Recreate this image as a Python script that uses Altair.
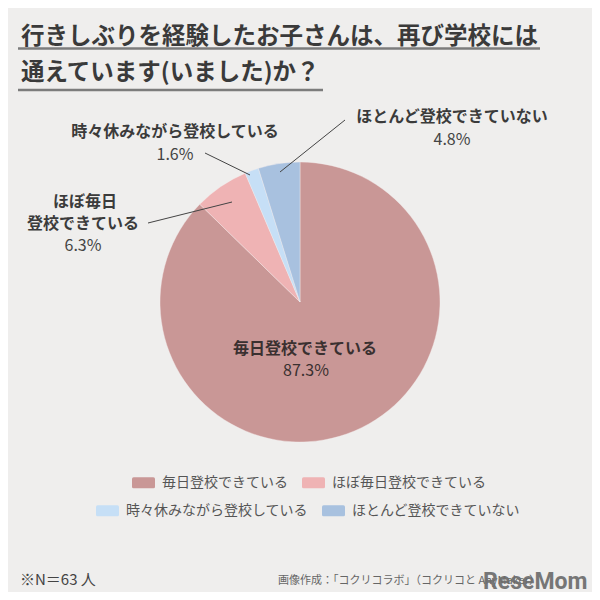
import math
import altair as alt
import pandas as pd

# ---- data ----
categories = ["毎日登校できている", "ほぼ毎日登校できている", "時々休みながら登校している", "ほとんど登校できていない"]
values = [87.3, 6.3, 1.6, 4.8]
colors = ["#c99796", "#efb3b4", "#c6dff6", "#a8c1df"]
title_lines = ["行きしぶりを経験したお子さんは、再び学校には", "通えています(いました)か？"]
note_text = "※N＝63 人"
credit_text = "画像作成：「コクリコラボ」（コクリコと AnyMaker）"
logo_text = "ReseMom"

FONT = "Noto Sans CJK JP"
BG = "#efeeed"
DARK = "#3b3b3b"

df = pd.DataFrame({"category": categories, "value": values, "order": list(range(len(categories)))})
total = sum(values)

swatch = ("M-0.86,-0.48 Q-1,-0.48 -1,-0.34 L-1,0.34 Q-1,0.48 -0.86,0.48 L0.86,0.48 "
          "Q1,0.48 1,0.34 L1,-0.34 Q1,-0.48 0.86,-0.48 Z")

base = (
    alt.Chart(df)
    .transform_window(end="sum(value)", sort=[alt.SortField("order")], frame=[None, 0])
    .transform_calculate(start="datum.end - datum.value")
)


def pie_layer(idx, lx, ly):
    dom = [categories[i] for i in idx]
    rng = [colors[i] for i in idx]
    return (
        base.transform_filter(alt.FieldOneOfPredicate(field="category", oneOf=dom))
        .mark_arc(outerRadius=140, stroke="#f4eeee", strokeWidth=0.4)
        .encode(
            theta=alt.Theta("start:Q", scale=alt.Scale(domain=[0, total], range=[0, 2 * math.pi])),
            theta2="end:Q",
            x=alt.value(292),
            y=alt.value(294),
            color=alt.Color(
                "category:N",
                scale=alt.Scale(domain=dom, range=rng),
                sort=dom,
                legend=alt.Legend(
                    orient="none", legendX=lx, legendY=ly, direction="horizontal",
                    title=None, symbolType=swatch, symbolSize=529, symbolStrokeWidth=0,
                    symbolOpacity=1,
                    labelFont=FONT, labelFontSize=14, labelColor="#555555",
                    labelOffset=7, columnPadding=14, labelLimit=0,
                ),
            ),
        )
    )


pie_a = pie_layer([0, 1], 124, 463)
pie_b = pie_layer([2, 3], 88, 491)


def txt(text, x, y, size, weight="normal", color=DARK, align="center", baseline="middle",
        opacity=1.0, font=FONT):
    return alt.Chart(df).transform_filter("datum.order == 0").mark_text(
        font=font, fontSize=size, fontWeight=weight, color=color,
        align=align, baseline=baseline, opacity=opacity,
    ).encode(x=alt.value(x), y=alt.value(y), text=alt.value(text))


def rule(x1, y1, x2, y2, color="#444444", width=1.0):
    return alt.Chart(df).transform_filter("datum.order == 0").mark_rule(
        color=color, strokeWidth=width
    ).encode(x=alt.value(x1), y=alt.value(y1), x2=alt.value(x2), y2=alt.value(y2))


layers = [
    pie_a, pie_b,
    # title with underlines
    txt(title_lines[0], 13, 35.5, 23.5, "bold", "#3a3a3a", "left", "alphabetic"),
    rule(10, 40.5, 532, 40.5, "#7c7c7c", 2.5),
    txt(title_lines[1], 13, 72, 23.5, "bold", "#3a3a3a", "left", "alphabetic"),
    rule(10, 82, 315, 82, "#7c7c7c", 2.5),
    # leader lines
    rule(197, 145, 242, 167),
    rule(337, 112, 272, 164),
    rule(140, 215, 224, 194),
    # slice labels
    txt("ほとんど登校できていない", 444, 109, 16, "bold"),
    txt(f"{values[3]}%", 444, 132, 16, "normal", "#444444"),
    txt("時々休みながら登校している", 167, 124, 16, "bold"),
    txt(f"{values[2]}%", 167, 147, 16, "normal", "#444444"),
    txt("ほぼ毎日", 77, 194, 16, "bold"),
    txt("登校できている", 75, 216, 16, "bold"),
    txt(f"{values[1]}%", 75, 238, 16, "normal", "#444444"),
    txt(categories[0], 297, 341, 16, "bold", "#3a3030"),
    txt(f"{values[0]}%", 298, 363, 16, "normal", "#3a3030"),
    # footer
    txt(note_text, 12, 577, 15, "normal", "#444444", "left", "alphabetic"),
    txt(credit_text, 270, 576, 11, "normal", "#666666", "left", "alphabetic"),
    txt(logo_text, 475, 581, 23, "bold", "#6c6c6c", "left", "alphabetic", 0.92, "Roboto"),
]

chart = (
    alt.layer(*layers)
    .resolve_scale(color="independent")
    .properties(
        width=584, height=584, padding=0,
        autosize=alt.AutoSizeParams(type="fit", contains="padding"),
        background=BG,
    )
    .configure_view(stroke=None)
)

chart.save("out.html", embed_options={"renderer": "svg", "actions": False})
